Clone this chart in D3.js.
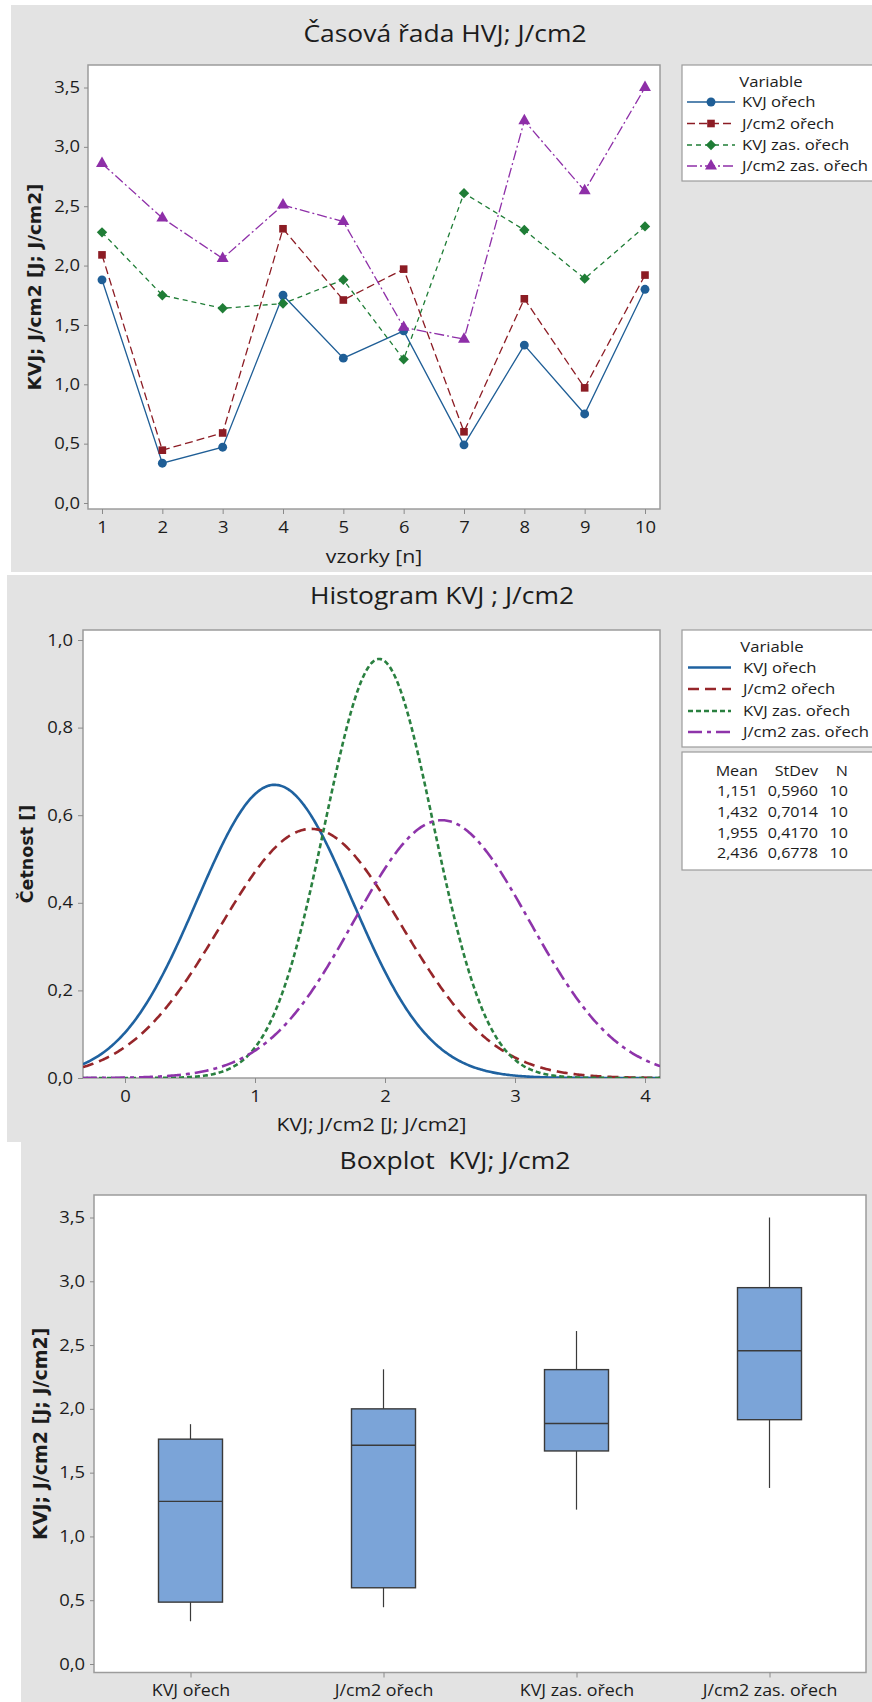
<!DOCTYPE html>
<html lang="cs">
<head>
<meta charset="utf-8">
<title>KVJ; J/cm2</title>
<style>
  body { margin: 0; background: #fff; }
  svg { display: block; }
  text { font-family: "Open Sans", "Noto Sans", sans-serif; font-weight: 500; fill: #1c1c1c; }
  .title { font-size: 23px; white-space: pre; }
  .axis text { font-size: 16px; fill: #1c1c1c; }
  .axis line { stroke: #8a8a8a; }
  .xlab { font-size: 18.5px; }
  .ylab { font-family: "DejaVu Sans", sans-serif; font-weight: bold; font-size: 18.5px; }
  .leg { font-size: 14.5px; }
  .stat { font-size: 14px; }
  .frame { fill: #fff; stroke: #9c9c9c; stroke-width: 1.5px; }
</style>
</head>
<body>
<script src="https://cdn.jsdelivr.net/npm/d3@7"></script>
<script>
// ---- data ----
const samples = [1, 2, 3, 4, 5, 6, 7, 8, 9, 10];
const seriesNames = ["KVJ ořech", "J/cm2 ořech", "KVJ zas. ořech", "J/cm2 zas. ořech"];
const kvjOrech = [1.88, 0.335, 0.47, 1.75, 1.22, 1.45, 0.49, 1.33, 0.75, 1.80];
const jcmOrech = [2.09, 0.445, 0.59, 2.31, 1.71, 1.97, 0.60, 1.72, 0.97, 1.92];
const kvjZas = [2.28, 1.75, 1.64, 1.68, 1.88, 1.21, 2.61, 2.30, 1.89, 2.33];
const jcmZas = [2.86, 2.40, 2.06, 2.51, 2.37, 1.48, 1.38, 3.22, 2.63, 3.50];
const means = [1.151, 1.432, 1.955, 2.436];
const stdevs = [0.5960, 0.7014, 0.4170, 0.6778];
const counts = [10, 10, 10, 10];
const valueTicks = [0, 0.5, 1, 1.5, 2, 2.5, 3, 3.5];
const histXTicks = [0, 1, 2, 3, 4];
const histYTicks = [0, 0.2, 0.4, 0.6, 0.8, 1.0];

const allSeries = [kvjOrech, jcmOrech, kvjZas, jcmZas];
const colors = ["#1f5e96", "#8c1c24", "#1f7d36", "#8e2fa8"];
const curveColors = ["#1f62a0", "#96262a", "#2a8040", "#8e34aa"];

const W = 872, H = 1702;
const svg = d3.select("body").append("svg").attr("width", W).attr("height", H);

const loc = d3.formatLocale({ decimal: ",", thousands: "\u00a0", grouping: [3], currency: ["", ""] });
const f1 = loc.format(".1f");

// the source screenshot is a bit wider than tall, so texts get stretched sideways
const SX = 1.15;
function stretch(sel) {
  sel.each(function () {
    const w = this.getComputedTextLength();
    d3.select(this).attr("textLength", w * SX).attr("lengthAdjust", "spacingAndGlyphs");
  });
}

// panel backgrounds
svg.append("rect").attr("x", 11).attr("y", 5).attr("width", W - 11).attr("height", 567).attr("fill", "#e3e3e3");
svg.append("rect").attr("x", 7).attr("y", 575).attr("width", W - 7).attr("height", 567).attr("fill", "#e3e3e3");
svg.append("rect").attr("x", 21).attr("y", 1142).attr("width", W - 21).attr("height", H - 1142).attr("fill", "#e3e3e3");

function frame(l, t, r, b) {
  svg.append("rect").attr("class", "frame").attr("x", l).attr("y", t).attr("width", r - l).attr("height", b - t);
}
function title(txt, x, y) {
  svg.append("text").attr("class", "title").attr("x", x).attr("y", y).attr("dy", "0.35em")
    .attr("text-anchor", "middle").text(txt).call(stretch);
}
function ylabel(txt, x, y, size) {
  svg.append("text").attr("class", "ylab").attr("transform", `translate(${x},${y}) rotate(-90)`)
    .attr("dy", "0.35em").attr("text-anchor", "middle").style("font-size", size + "px").text(txt);
}
function xlabel(txt, x, y) {
  svg.append("text").attr("class", "xlab").attr("x", x).attr("y", y).attr("dy", "0.35em")
    .attr("text-anchor", "middle").text(txt).call(stretch);
}
function axis(g) {
  g.attr("class", "axis").attr("font-size", null).attr("font-family", null);
  g.select(".domain").remove();
  g.selectAll(".tick text").call(stretch);
}

// ================= Panel 1: time series =================
const p1 = { l: 88, t: 65, r: 660, b: 509 };
const x1 = d3.scaleLinear().domain([1, 10]).range([102, 645]);
const y1 = d3.scaleLinear().domain([0, 3.5]).range([503, 87.5]);

title("Časová řada HVJ; J/cm2", 445, 34);
frame(p1.l, p1.t, p1.r, p1.b);
svg.append("g").attr("transform", `translate(${p1.l},0)`)
  .call(d3.axisLeft(y1).tickValues(valueTicks).tickFormat(f1).tickSize(4).tickPadding(4)).call(axis);
svg.append("g").attr("transform", `translate(0,${p1.b})`)
  .call(d3.axisBottom(x1).tickValues(samples).tickFormat(d3.format("d")).tickSize(5).tickPadding(8)).call(axis);
ylabel("KVJ; J/cm2 [J; J/cm2]", 35, (p1.t + p1.b) / 2, 18.5);
xlabel("vzorky [n]", (p1.l + p1.r) / 2, 557);

const lineDash = [null, "8,4", "5,4", "10,3,2,3"];
const markerType = [d3.symbolCircle, d3.symbolSquare, d3.symbolSquare, d3.symbolTriangle];
const markerSize = [62, 58, 54, 62];
const markerRot = [0, 0, 45, 0];

const line1 = d3.line().x((d, j) => x1(samples[j])).y(d => y1(d));
allSeries.forEach((vals, i) => {
  svg.append("path").attr("d", line1(vals)).attr("fill", "none")
    .attr("stroke", colors[i]).attr("stroke-width", 1.3).attr("stroke-dasharray", lineDash[i]);
});
allSeries.forEach((vals, i) => {
  svg.append("g").selectAll("path").data(vals).join("path")
    .attr("d", d3.symbol().type(markerType[i]).size(markerSize[i]))
    .attr("transform", (d, j) => `translate(${x1(samples[j])},${y1(d)}) rotate(${markerRot[i]})`)
    .attr("fill", colors[i]);
});

// legend 1
svg.append("rect").attr("x", 682).attr("y", 65).attr("width", 210).attr("height", 116)
  .attr("fill", "#fff").attr("stroke", "#9c9c9c").attr("stroke-width", 1.2);
svg.append("text").attr("class", "leg").attr("x", 771).attr("y", 82).attr("dy", "0.35em")
  .attr("text-anchor", "middle").text("Variable").call(stretch);
const leg1Y = [102, 123.5, 145, 166];
seriesNames.forEach((name, i) => {
  const y = leg1Y[i];
  svg.append("line").attr("x1", 687).attr("x2", 735).attr("y1", y).attr("y2", y)
    .attr("stroke", colors[i]).attr("stroke-width", 1.3).attr("stroke-dasharray", lineDash[i]);
  svg.append("path").attr("d", d3.symbol().type(markerType[i]).size(markerSize[i]))
    .attr("transform", `translate(711,${y}) rotate(${markerRot[i]})`).attr("fill", colors[i]);
  svg.append("text").attr("class", "leg").attr("x", 742).attr("y", y).attr("dy", "0.35em").text(name).call(stretch);
});

// ================= Panel 2: fitted normal curves =================
const p2 = { l: 83, t: 630, r: 660, b: 1078 };
const x2 = d3.scaleLinear().domain([0, 4]).range([125, 645]);
const y2 = d3.scaleLinear().domain([0, 1]).range([1078, 640]);

title("Histogram KVJ ; J/cm2", 442, 596);
frame(p2.l, p2.t, p2.r, p2.b);
svg.append("g").attr("transform", `translate(${p2.l},0)`)
  .call(d3.axisLeft(y2).tickValues(histYTicks).tickFormat(f1).tickSize(5).tickPadding(5)).call(axis);
svg.append("g").attr("transform", `translate(0,${p2.b})`)
  .call(d3.axisBottom(x2).tickValues(histXTicks).tickFormat(d3.format("d")).tickSize(5).tickPadding(8)).call(axis);
ylabel("Četnost []", 27, (p2.t + p2.b) / 2, 17.5);
xlabel("KVJ; J/cm2 [J; J/cm2]", (p2.l + p2.r) / 2, 1125);

svg.append("clipPath").attr("id", "clip2").append("rect")
  .attr("x", p2.l).attr("y", p2.t).attr("width", p2.r - p2.l).attr("height", p2.b - p2.t);
const curveDash = [null, "11,6", "5,3", "14,5,4,5"];
const xs = d3.range(x2.invert(p2.l), x2.invert(p2.r) + 0.005, 0.01);
const normal = (x, m, s) => Math.exp(-0.5 * ((x - m) / s) ** 2) / (s * Math.sqrt(2 * Math.PI));
const line2 = d3.line().x(d => x2(d[0])).y(d => y2(d[1]));
means.forEach((m, i) => {
  const pts = xs.map(x => [x, normal(x, m, stdevs[i])]);
  svg.append("path").attr("clip-path", "url(#clip2)").attr("d", line2(pts)).attr("fill", "none")
    .attr("stroke", curveColors[i]).attr("stroke-width", 2.6).attr("stroke-dasharray", curveDash[i]);
});

// legend 2 + stats table
svg.append("rect").attr("x", 682).attr("y", 630).attr("width", 210).attr("height", 117)
  .attr("fill", "#fff").attr("stroke", "#9c9c9c").attr("stroke-width", 1.2);
svg.append("text").attr("class", "leg").attr("x", 772).attr("y", 647).attr("dy", "0.35em")
  .attr("text-anchor", "middle").text("Variable").call(stretch);
const leg2Y = [667.5, 689, 711, 732];
seriesNames.forEach((name, i) => {
  const y = leg2Y[i];
  svg.append("line").attr("x1", 688).attr("x2", 731).attr("y1", y).attr("y2", y)
    .attr("stroke", curveColors[i]).attr("stroke-width", 2.6).attr("stroke-dasharray", curveDash[i]);
  svg.append("text").attr("class", "leg").attr("x", 743).attr("y", y).attr("dy", "0.35em").text(name).call(stretch);
});
svg.append("rect").attr("x", 682).attr("y", 752).attr("width", 210).attr("height", 118)
  .attr("fill", "#fff").attr("stroke", "#9c9c9c").attr("stroke-width", 1.2);
const colX = [758, 818, 848];
const statRows = [["Mean", "StDev", "N"]].concat(means.map((m, i) =>
  [loc.format(".3f")(m), loc.format(".4f")(stdevs[i]), String(counts[i])]));
const rowY = [771, 791.5, 812, 833, 853];
statRows.forEach((row, r) => {
  row.forEach((cell, c) => {
    svg.append("text").attr("class", "stat").attr("x", colX[c]).attr("y", rowY[r]).attr("dy", "0.35em")
      .attr("text-anchor", "end").text(cell).call(stretch);
  });
});

// ================= Panel 3: boxplot =================
const p3 = { l: 94, t: 1195, r: 866, b: 1672.5 };
const x3 = d3.scalePoint().domain(seriesNames).range([p3.l, p3.r]).padding(0.5);
const y3 = d3.scaleLinear().domain([0, 3.5]).range([1664, 1217.5]);

title("Boxplot  KVJ; J/cm2", 455, 1161);
frame(p3.l, p3.t, p3.r, p3.b);
svg.append("g").attr("transform", `translate(${p3.l},0)`)
  .call(d3.axisLeft(y3).tickValues(valueTicks).tickFormat(f1).tickSize(4).tickPadding(5)).call(axis);
const xAxis3 = svg.append("g").attr("transform", `translate(0,${p3.b})`)
  .call(d3.axisBottom(x3).tickSize(5).tickPadding(7));
xAxis3.selectAll(".tick text").style("font-size", "15.5px");
xAxis3.call(axis);
ylabel("KVJ; J/cm2 [J; J/cm2]", 40, (p3.t + p3.b) / 2, 19);

// Minitab-style quartiles: position q*(n+1)
function quart(sorted, q) {
  const pos = q * (sorted.length + 1);
  const lo = Math.floor(pos), frac = pos - lo;
  if (lo < 1) return sorted[0];
  if (lo >= sorted.length) return sorted[sorted.length - 1];
  return sorted[lo - 1] + frac * (sorted[lo] - sorted[lo - 1]);
}
const boxW = 64;
allSeries.forEach((vals, i) => {
  const s = vals.slice().sort(d3.ascending);
  const q1 = quart(s, 0.25), med = quart(s, 0.5), q3 = quart(s, 0.75);
  const iqr = q3 - q1;
  const lo = d3.min(s.filter(v => v >= q1 - 1.5 * iqr));
  const hi = d3.max(s.filter(v => v <= q3 + 1.5 * iqr));
  const cx = x3(seriesNames[i]);
  const g = svg.append("g");
  g.append("line").attr("x1", cx).attr("x2", cx).attr("y1", y3(hi)).attr("y2", y3(q3))
    .attr("stroke", "#3a3a3a").attr("stroke-width", 1.2);
  g.append("line").attr("x1", cx).attr("x2", cx).attr("y1", y3(q1)).attr("y2", y3(lo))
    .attr("stroke", "#3a3a3a").attr("stroke-width", 1.2);
  g.append("rect").attr("x", cx - boxW / 2).attr("y", y3(q3)).attr("width", boxW).attr("height", y3(q1) - y3(q3))
    .attr("fill", "#7ba4d8").attr("stroke", "#3a3a3a").attr("stroke-width", 1.4);
  g.append("line").attr("x1", cx - boxW / 2).attr("x2", cx + boxW / 2).attr("y1", y3(med)).attr("y2", y3(med))
    .attr("stroke", "#3a3a3a").attr("stroke-width", 1.4);
});
</script>
</body>
</html>
